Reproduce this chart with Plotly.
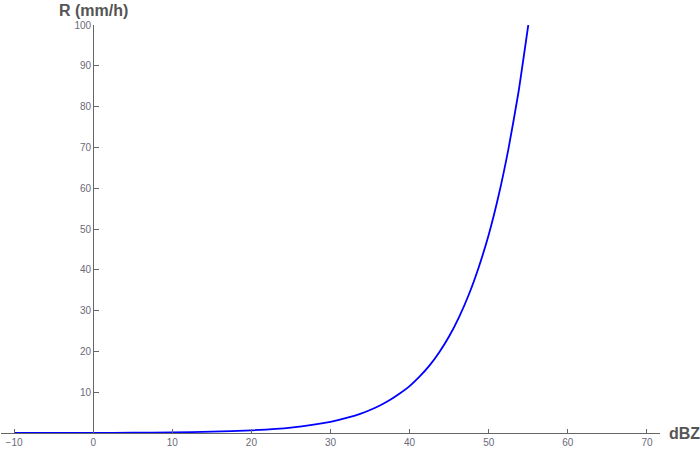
import plotly.graph_objects as go

# Values (dBZ -> rain rate R in mm/h)
dbz = [-10, -5, 0, 5, 10, 15, 20, 25, 30, 32.5, 33.75, 35, 36.25, 37.5, 38.75, 40, 41.25, 42.5, 43.75,
       45, 46.25, 47.5, 48.75, 50, 51.25, 52.5, 53.75, 55]
rain = [0.0087, 0.018, 0.036, 0.075, 0.154, 0.316, 0.65, 1.33, 2.74, 3.93, 4.70, 5.63, 6.74, 8.07, 9.66, 11.5, 13.8, 16.5, 19.8,
        23.7, 28.4, 34.0, 40.7, 48.6, 58.2, 69.7, 83.4, 100]

x_ticks = [-10, 0, 10, 20, 30, 40, 50, 60, 70]
y_ticks = [10, 20, 30, 40, 50, 60, 70, 80, 90, 100]

xr = [-11.65, 71.65]
yr = [0, 100]

fig = go.Figure()
fig.add_trace(go.Scatter(x=dbz, y=rain, mode="lines", line=dict(color="#0000ff", width=1.8, shape="spline", smoothing=0.5),
                         hoverinfo="skip", showlegend=False))

axis_col = "#666666"
tick_font = dict(family="Liberation Sans, Arial, sans-serif", size=10, color="#6a6a78")
x0_frac = (0 - xr[0]) / (xr[1] - xr[0])

fig.update_layout(
    width=700, height=450,
    margin=dict(l=1, r=40, t=25, b=17),
    paper_bgcolor="white", plot_bgcolor="white",
    xaxis=dict(range=xr, tickvals=x_ticks, ticks="inside", ticklen=4, tickcolor=axis_col, tickwidth=1,
               showline=True, linecolor=axis_col, linewidth=1, showgrid=False, zeroline=False,
               tickfont=tick_font, fixedrange=True),
    yaxis=dict(range=yr, tickvals=y_ticks, ticks="inside", ticklen=5, tickcolor=axis_col, tickwidth=1,
               showline=True, linecolor=axis_col, linewidth=1, showgrid=False, zeroline=False,
               anchor="free", position=x0_frac,
               tickfont=tick_font, fixedrange=True),
    annotations=[
        dict(text="<b>R (mm/h)</b>", xref="paper", yref="paper", x=x0_frac, y=1,
             yshift=15, xanchor="center", yanchor="middle", showarrow=False,
             font=dict(family="Liberation Sans, Arial, sans-serif", size=16, color="#555555")),
        dict(text="<b>dBZ</b>", xref="paper", yref="paper", x=1, y=0, xshift=7,
             xanchor="left", yanchor="middle", showarrow=False,
             font=dict(family="Liberation Sans, Arial, sans-serif", size=16, color="#555555")),
    ],
)

fig.write_html("out.html", config={"displayModeBar": False},
               post_script="document.body.style.margin='0';document.body.style.padding='0';")
